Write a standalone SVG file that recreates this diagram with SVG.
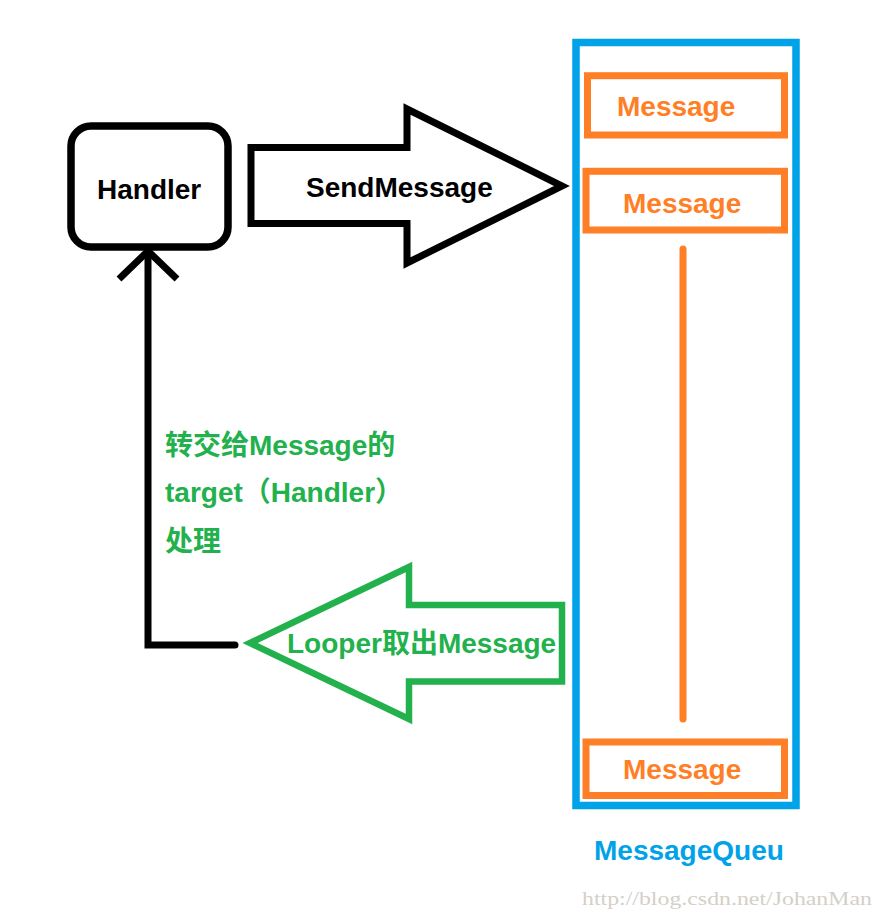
<svg xmlns="http://www.w3.org/2000/svg" width="883" height="920" viewBox="0 0 883 920">
<style>
.t{font-family:"Liberation Sans","Noto Sans CJK SC",sans-serif;font-weight:bold;font-size:28px}
.blk{fill:#000}
.org{fill:#FF7F27}
.grn{fill:#22B14C}
.blu{fill:#00A2E8}
.msg{fill:none;stroke:#FF7F27;stroke-width:7}
</style>
<rect width="883" height="920" fill="#fff"/>
<g id="queue">
<rect x="576" y="42.5" width="220" height="763" fill="none" stroke="#00A2E8" stroke-width="7.5"/>
<text class="t blu" x="594" y="860">MessageQueu</text>
</g>
<g id="message1">
<rect class="msg" x="587.5" y="75.7" width="197" height="59.3"/>
<text class="t org" x="617" y="116">Message</text>
</g>
<g id="message2">
<rect class="msg" x="586" y="171.3" width="198.5" height="58.7"/>
<text class="t org" x="623" y="213">Message</text>
</g>
<g id="message3">
<rect class="msg" x="586" y="742" width="198.5" height="53.5"/>
<text class="t org" x="623" y="779">Message</text>
</g>
<g id="handler">
<rect x="71" y="126" width="157" height="121" rx="20" fill="none" stroke="#000" stroke-width="7.5"/>
<text class="t blk" x="97" y="199">Handler</text>
</g>
<g id="connectors">
<line x1="683" y1="249" x2="683" y2="719" stroke="#FF7F27" stroke-width="7" stroke-linecap="round"/>
<g id="send">
<polygon points="251,147.5 407,147.5 407,109 562,186 407,263 407,223.5 251,223.5" fill="none" stroke="#000" stroke-width="7"/>
<text class="t blk" x="306" y="197">SendMessage</text>
</g>
<g id="looper">
<polygon points="250,643 409,567 409,605 562,605 562,681.5 409,681.5 409,719" fill="none" stroke="#22B14C" stroke-width="6.5"/>
<text class="t grn" x="287" y="653">Looper取出Message</text>
</g>
<path d="M235,645 H148 V253" fill="none" stroke="#000" stroke-width="7" stroke-linecap="round"/>
<path d="M119,279 L148,251 L177,279" fill="none" stroke="#000" stroke-width="7"/>
<text class="t grn" x="165" y="455">转交给Message的</text>
<text class="t grn" x="165" y="502">target（Handler）</text>
<text class="t grn" x="165" y="551">处理</text>
</g>
<text x="582" y="905" textLength="290" lengthAdjust="spacingAndGlyphs" font-family="Liberation Serif,serif" font-size="19" fill="#d4d0c8">http://blog.csdn.net/JohanMan</text>
</svg>
